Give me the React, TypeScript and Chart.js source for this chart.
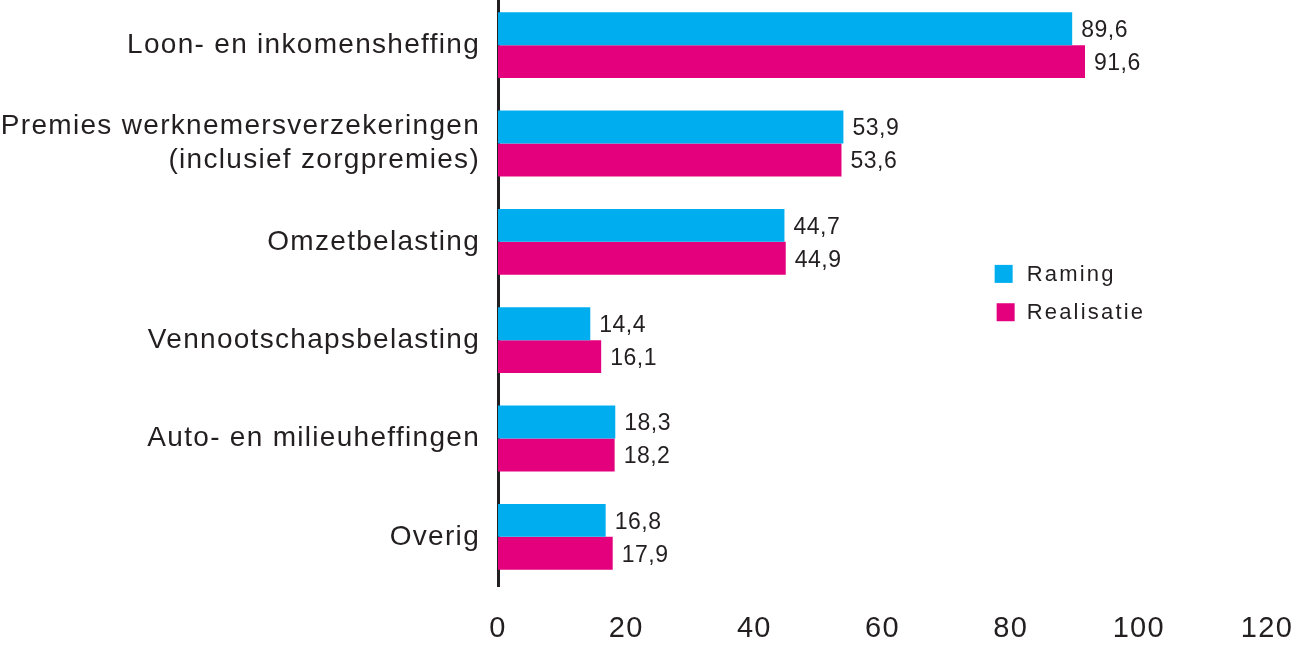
import React, { useEffect, useRef } from "react";
import { Chart, registerables } from "chart.js";

Chart.register(...registerables);

const categories: (string | string[])[] = [
  "Loon- en inkomensheffing",
  ["Premies werknemersverzekeringen", "(inclusief zorgpremies)"],
  "Omzetbelasting",
  "Vennootschapsbelasting",
  "Auto- en milieuheffingen",
  "Overig",
];
const raming = [89.6, 53.9, 44.7, 14.4, 18.3, 16.8];
const realisatie = [91.6, 53.6, 44.9, 16.1, 18.2, 17.9];
const seriesNames = ["Raming", "Realisatie"];
const xTicks = [0, 20, 40, 60, 80, 100, 120];

const BLUE = "#00AEEF";
const PINK = "#E4007C";
const TEXT = "#231F20";
const FONT = "'Liberation Sans', Arial, sans-serif";

const tracking = {
  id: "tracking",
  beforeDraw(chart: any) {
    chart.ctx.letterSpacing = "1.3px";
  },
};

const valueLabels = {
  id: "valueLabels",
  afterDatasetsDraw(chart: any) {
    const ctx = chart.ctx;
    ctx.save();
    ctx.letterSpacing = "0.5px";
    ctx.font = `23px ${FONT}`;
    ctx.fillStyle = TEXT;
    ctx.textAlign = "left";
    ctx.textBaseline = "middle";
    chart.data.datasets.forEach((ds: any, i: number) => {
      const meta = chart.getDatasetMeta(i);
      meta.data.forEach((bar: any, j: number) => {
        const v = ds.data[j] as number;
        ctx.fillText(v.toFixed(1).replace(".", ","), bar.x + 9, bar.y + 2);
      });
    });
    ctx.restore();
  },
};

const insideLegend = {
  id: "insideLegend",
  afterDraw(chart: any) {
    const ctx = chart.ctx;
    const xs = chart.scales.x;
    const ca = chart.chartArea;
    const x0 = xs.getPixelForValue(77.5);
    const h = ca.bottom - ca.top;
    const ys = [ca.top + 0.471 * h, ca.top + 0.536 * h];
    const colors = [BLUE, PINK];
    ctx.save();
    ctx.letterSpacing = "2.2px";
    ctx.font = `22px ${FONT}`;
    ctx.textAlign = "left";
    ctx.textBaseline = "middle";
    seriesNames.forEach((name, i) => {
      ctx.fillStyle = colors[i];
      ctx.fillRect(x0 + (i === 1 ? 2 : 0), ys[i] - 9, 18, 18);
      ctx.fillStyle = TEXT;
      ctx.fillText(name, x0 + 32, ys[i] + 1);
    });
    ctx.restore();
  },
};

export default function App() {
  const ref = useRef<HTMLCanvasElement>(null);
  useEffect(() => {
    if (!ref.current) return;
    const chart = new Chart(ref.current, {
      type: "bar",
      data: {
        labels: categories,
        datasets: [
          { label: seriesNames[0], data: raming, backgroundColor: BLUE, barPercentage: 1, categoryPercentage: 0.67 },
          { label: seriesNames[1], data: realisatie, backgroundColor: PINK, barPercentage: 1, categoryPercentage: 0.67 },
        ],
      },
      options: {
        indexAxis: "y",
        animation: false,
        responsive: false,
        maintainAspectRatio: false,
        layout: { padding: { top: 0, right: 28, left: 0, bottom: 0 } },
        plugins: { legend: { display: false }, tooltip: { enabled: false } },
        scales: {
          x: {
            min: 0,
            max: 120,
            afterBuildTicks: (s: any) => {
              s.ticks = xTicks.map((v) => ({ value: v }));
            },
            afterFit: (s: any) => {
              s.height = 60;
              s.paddingLeft = 0;
              s.paddingRight = 0;
            },
            grid: { display: false, drawTicks: false },
            border: { display: false },
            ticks: {
              color: TEXT,
              font: { family: FONT, size: 29 },
              padding: 26,
              maxRotation: 0,
              autoSkip: false,
            },
          },
          y: {
            afterFit: (s: any) => {
              s.width = 498;
              s.paddingTop = 0;
              s.paddingBottom = 0;
            },
            grid: { display: false, drawTicks: false },
            border: { display: true, color: TEXT, width: 3 },
            ticks: {
              color: TEXT,
              font: { family: FONT, size: 28, lineHeight: 1.2 },
              padding: 18,
              autoSkip: false,
            },
          },
        },
      },
      plugins: [tracking, valueLabels, insideLegend],
    });
    return () => chart.destroy();
  }, []);
  return (
    <div style={{ position: "absolute", left: 0, top: -4, width: 1295, height: 650 }}>
      <canvas ref={ref} width={1295} height={650} style={{ display: "block" }} />
    </div>
  );
}
